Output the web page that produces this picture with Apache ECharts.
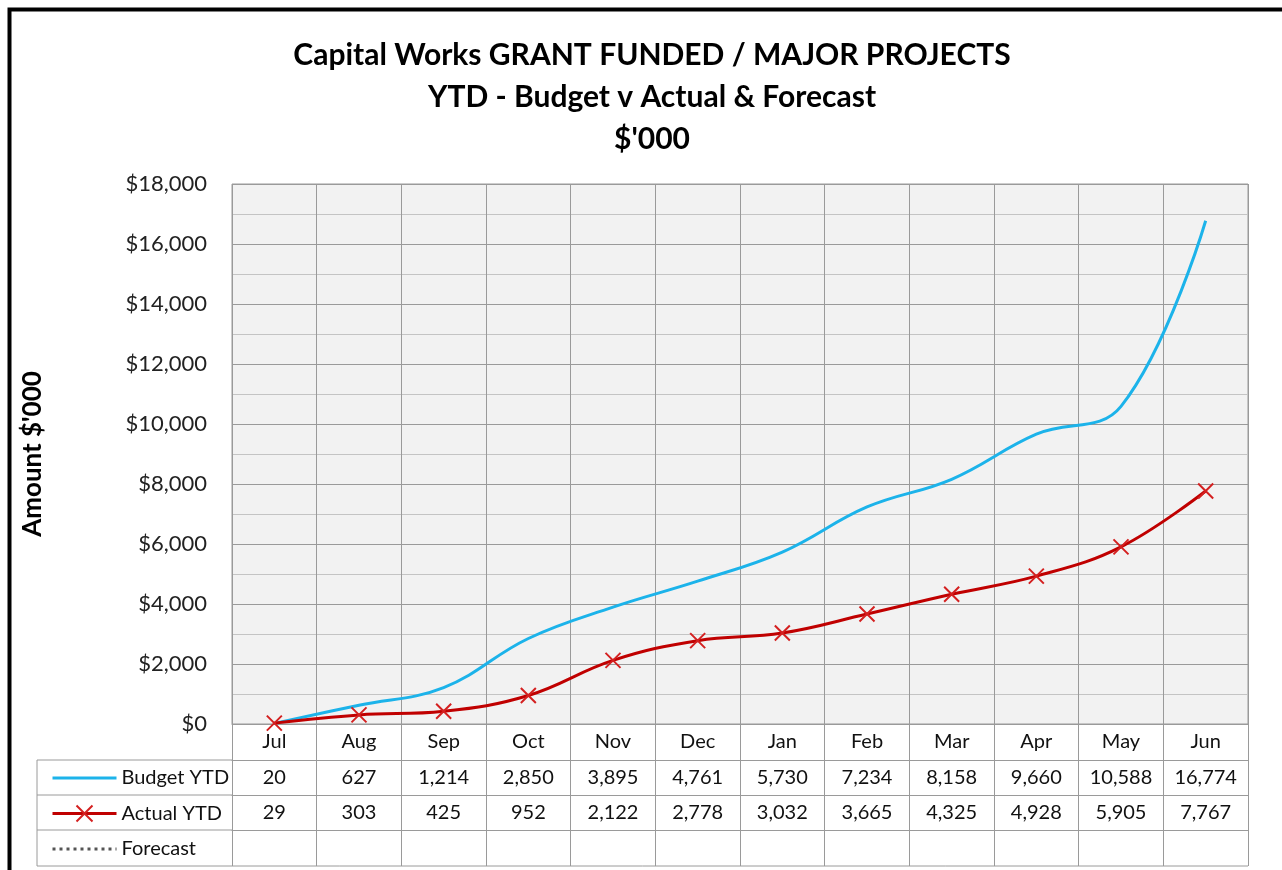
<!DOCTYPE html>
<html>
<head>
<meta charset="utf-8">
<script src="https://cdn.jsdelivr.net/npm/echarts@6/dist/echarts.min.js"></script>
<style>
  html, body { margin: 0; padding: 0; background: #fff; }
  #chart { width: 1282px; height: 870px; }
</style>
</head>
<body>
<div id="chart"></div>
<script>
  const months = ["Jul", "Aug", "Sep", "Oct", "Nov", "Dec", "Jan", "Feb", "Mar", "Apr", "May", "Jun"];
  const budgetYtd = [20, 627, 1214, 2850, 3895, 4761, 5730, 7234, 8158, 9660, 10588, 16774];
  const actualYtd = [29, 303, 425, 952, 2122, 2778, 3032, 3665, 4325, 4928, 5905, 7767];
  const forecast = [];

  const font = "Lato";
  const gridLine = "#9a9a9a";
  const fmt = (v) => v.toLocaleString("en-US");

  const chart = echarts.init(document.getElementById("chart"));

  // one x axis per table row, stacked under the plot with offset
  function tableAxis(offset, len, labels) {
    return {
      type: "category",
      data: months,
      position: "bottom",
      offset: offset,
      boundaryGap: true,
      axisLine: { show: true, lineStyle: { color: gridLine, width: 1 } },
      axisTick: { show: true, length: len, lineStyle: { color: gridLine } },
      axisLabel: {
        margin: 8,
        fontFamily: font,
        fontSize: 20,
        color: "#111",
        formatter: (v, i) => labels[i] === undefined ? "" : labels[i],
      },
      splitLine: { show: false },
    };
  }

  const xAxes = [
    tableAxis(0, 36, months),
    tableAxis(36, 35, budgetYtd.map(fmt)),
    tableAxis(71, 35, actualYtd.map(fmt)),
    tableAxis(106, 36, forecast),
  ];
  xAxes[0].splitLine = { show: true, lineStyle: { color: gridLine, width: 1 } };

  const option = {
    backgroundColor: "#fff",
    animation: false,
    title: {
      text: "Capital Works GRANT FUNDED / MAJOR PROJECTS\nYTD - Budget v Actual & Forecast\n$'000",
      left: 647,
      textAlign: "center",
      top: 29,
      textStyle: {
        fontFamily: font,
        fontWeight: "bold",
        fontSize: 30,
        lineHeight: 42,
        color: "#000",
      },
    },
    legend: {
      orient: "vertical",
      left: 46,
      top: 763,
      itemWidth: 64,
      itemHeight: 20,
      itemGap: 15.5,
      textStyle: { fontFamily: font, fontSize: 20, color: "#111" },
      data: [
        { name: "Budget YTD", itemStyle: { opacity: 0 }, lineStyle: { width: 3 } },
        { name: "Actual YTD", lineStyle: { width: 3 } },
        { name: "Forecast", itemStyle: { opacity: 0 }, lineStyle: { width: 3, type: [3, 4] } },
      ],
    },
    grid: {
      left: 232,
      right: 34,
      top: 184,
      bottom: 146,
      show: true,
      backgroundColor: "#f2f2f2",
      borderColor: gridLine,
      borderWidth: 1,
    },
    xAxis: xAxes,
    yAxis: {
      type: "value",
      min: 0,
      max: 18000,
      interval: 2000,
      name: "Amount $'000",
      nameLocation: "middle",
      nameGap: 186,
      nameTextStyle: { fontFamily: font, fontWeight: "bold", fontSize: 26, color: "#000" },
      axisLine: { show: false },
      axisTick: { show: false },
      axisLabel: {
        margin: 25,
        fontFamily: font,
        fontSize: 22,
        color: "#222",
        formatter: (v) => "$" + fmt(v),
      },
      splitLine: { show: true, lineStyle: { color: gridLine, width: 1 } },
      minorTick: { show: false, splitNumber: 2 },
      minorSplitLine: { show: true, lineStyle: { color: "#c4c4c4", width: 1 } },
    },
    series: [
      {
        name: "Budget YTD",
        type: "line",
        data: budgetYtd,
        smooth: 0.4,
        symbol: "none",
        lineStyle: { color: "#1cb3ea", width: 3 },
        itemStyle: { color: "#1cb3ea" },
      },
      {
        name: "Actual YTD",
        type: "line",
        data: actualYtd,
        smooth: 0.4,
        symbol: "path://M0,0L10,10M10,0L0,10",
        symbolSize: 15,
        lineStyle: { color: "#c00000", width: 3 },
        itemStyle: { color: "#c00000", borderColor: "#d42020", borderWidth: 2 },
      },
      {
        name: "Forecast",
        type: "line",
        data: forecast,
        symbol: "none",
        lineStyle: { color: "#555", width: 3, type: "dotted" },
        itemStyle: { color: "#555" },
      },
    ],
    graphic: [
      // outer chart frame
      { type: "rect", shape: { x: 9.5, y: 9.5, width: 1300, height: 900 }, style: { fill: "none", stroke: "#000", lineWidth: 4 }, silent: true },
      // legend column of the data table
      { type: "line", shape: { x1: 37, y1: 760, x2: 232, y2: 760 }, style: { stroke: gridLine, lineWidth: 1 } },
      { type: "line", shape: { x1: 37, y1: 795, x2: 232, y2: 795 }, style: { stroke: gridLine, lineWidth: 1 } },
      { type: "line", shape: { x1: 37, y1: 830, x2: 232, y2: 830 }, style: { stroke: gridLine, lineWidth: 1 } },
      { type: "line", shape: { x1: 37, y1: 866, x2: 1248, y2: 866 }, style: { stroke: gridLine, lineWidth: 1 } },
      { type: "line", shape: { x1: 37, y1: 760, x2: 37, y2: 866 }, style: { stroke: gridLine, lineWidth: 1 } },
    ],
  };

  chart.setOption(option);
</script>
</body>
</html>
